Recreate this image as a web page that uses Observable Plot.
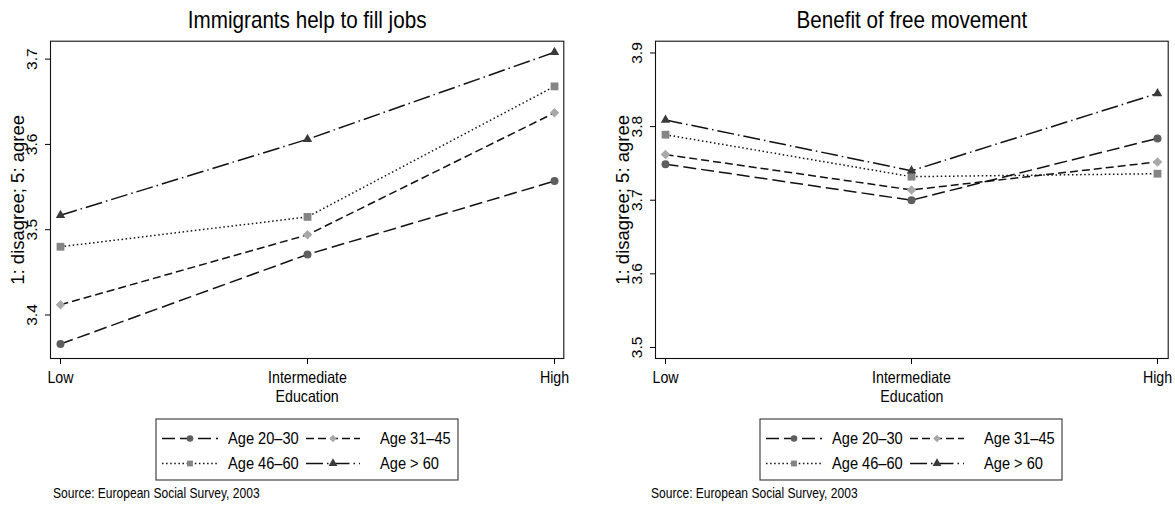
<!DOCTYPE html>
<html><head><meta charset="utf-8">
<script src="https://cdn.jsdelivr.net/npm/d3@7"></script>
<script src="https://cdn.jsdelivr.net/npm/@observablehq/plot@0.6"></script>
<style>
body{margin:0;background:#fff;}
#wrap{position:relative;width:1175px;height:507px;overflow:hidden;background:#fff;}
.panel{position:absolute;top:0;}
.legend{position:absolute;overflow:visible;}
.src{position:absolute;font-family:'Liberation Sans',Arial,sans-serif;font-size:14px;color:#000;white-space:nowrap;line-height:16px;transform:scaleX(0.86);transform-origin:0 50%;}
</style></head><body><div id="wrap"></div>
<script>
const education = ["Low", "Intermediate", "High"];
const ageGroups = ["Age 20\u201330", "Age 31\u201345", "Age 46\u201360", "Age > 60"];
const jobsAge20_30 = [3.366, 3.471, 3.557];
const jobsAge31_45 = [3.412, 3.494, 3.637];
const jobsAge46_60 = [3.480, 3.515, 3.668];
const jobsAge60plus = [3.517, 3.606, 3.708];
const moveAge20_30 = [3.749, 3.700, 3.784];
const moveAge31_45 = [3.762, 3.714, 3.752];
const moveAge46_60 = [3.789, 3.732, 3.736];
const moveAge60plus = [3.809, 3.740, 3.845];
const jobsTicks = [3.4, 3.5, 3.6, 3.7];
const moveTicks = [3.5, 3.6, 3.7, 3.8, 3.9];
const titles = ["Immigrants help to fill jobs", "Benefit of free movement"];
const yLabel = "1: disagree; 5: agree";
const xLabel = "Education";
const sourceText = "Source: European Social Survey, 2003";

const NARROW = "'Liberation Sans Narrow','Liberation Sans',Arial,sans-serif";
const REG = "'Liberation Sans',Arial,Helvetica,sans-serif";
const NARROW_K = 0.86;

const seriesStyles = [
  {dash: "13,5", symbol: "circle", fill: "#5e5e5e", r: 4},
  {dash: "8,4", symbol: "diamond2", fill: "#a8a8a8", r: 4.3},
  {dash: "1.5,2.6", symbol: "square", fill: "#858585", r: 4.4},
  {dash: "17,4,1.5,4", symbol: "triangle", fill: "#3a3a3a", r: 3.5}
];

function narrowTexts(root) {
  root.querySelectorAll('[font-family*="Narrow"] text, text[font-family*="Narrow"]').forEach(t => {
    const L = t.getComputedTextLength();
    if (L > 0) {
      t.setAttribute("textLength", (L * NARROW_K).toFixed(2));
      t.setAttribute("lengthAdjust", "spacingAndGlyphs");
    }
  });
}

function makePanel(cfg) {
  const marks = [
    Plot.frame({stroke: "#111", strokeWidth: 1.1}),
    Plot.axisX({tickSize: 6, tickPadding: 7, fontFamily: NARROW, fontSize: 16.5, label: null}),
    Plot.axisY({ticks: cfg.ticks, tickSize: 5, tickFormat: () => "", label: null}),
    Plot.text(cfg.ticks, {y: d => d, text: d => d.toFixed(1), frameAnchor: "left", rotate: -90, dx: -18, textAnchor: "middle", lineAnchor: "middle", fontSize: 15.5, fontFamily: REG}),
    Plot.text([yLabel], {frameAnchor: "left", rotate: -90, dx: -32, textAnchor: "middle", lineAnchor: "middle", fontSize: 18.5, fontFamily: REG}),
    Plot.text([cfg.title], {frameAnchor: "top", dy: -20.5, lineAnchor: "middle", fontSize: 24, fontFamily: NARROW}),
    Plot.text([xLabel], {frameAnchor: "bottom", dy: 38.5, lineAnchor: "middle", fontSize: 16.5, fontFamily: NARROW})
  ];
  cfg.values.forEach((vals, i) => {
    const st = seriesStyles[i];
    const data = education.map((e, j) => ({edu: e, value: vals[j], group: ageGroups[i]}));
    marks.push(Plot.line(data, {x: "edu", y: "value", stroke: "#111", strokeWidth: 1.5, strokeDasharray: st.dash, strokeLinecap: "butt"}));
  });
  cfg.values.forEach((vals, i) => {
    const st = seriesStyles[i];
    const data = education.map((e, j) => ({edu: e, value: vals[j], group: ageGroups[i]}));
    marks.push(Plot.dot(data, {x: "edu", y: "value", symbol: st.symbol, fill: st.fill, r: st.r, stroke: "none"}));
  });
  const svg = Plot.plot({
    width: cfg.width, height: 410,
    marginLeft: cfg.marginLeft, marginRight: cfg.marginRight, marginTop: 40.7, marginBottom: 52,
    x: {type: "point", domain: education, padding: 0, insetLeft: cfg.insetL, insetRight: cfg.insetR},
    y: {domain: cfg.yDomain},
    style: {fontFamily: REG, fontSize: "15px", color: "#000", background: "transparent", overflow: "visible"},
    marks
  });
  const div = document.createElement("div");
  div.className = "panel";
  div.style.left = cfg.left + "px";
  div.appendChild(svg);
  document.getElementById("wrap").appendChild(div);
  narrowTexts(svg);

  // legend
  const frameCenter = cfg.left + cfg.marginLeft + (cfg.width - cfg.marginLeft - cfg.marginRight) / 2;
  const lw = 302, lh = 61;
  const lg = d3.select("#wrap").append("svg").attr("class", "legend")
    .attr("width", lw + 30).attr("height", lh + 2)
    .style("left", (frameCenter - lw / 2 - 1) + "px").style("top", "417.5px");
  lg.append("rect").attr("x", 1).attr("y", 1).attr("width", lw).attr("height", lh)
    .attr("fill", "#fff").attr("stroke", "#333").attr("stroke-width", 1.1);
  const cols = [{x0: 7, x1: 63, tx: 73}, {x0: 151, x1: 205, tx: 225}];
  const rows = [19.5, 44.5];
  ageGroups.forEach((g, i) => {
    const st = seriesStyles[i];
    const c = cols[i % 2], ry = rows[Math.floor(i / 2)] + 1;
    lg.append("line").attr("x1", c.x0).attr("x2", c.x1).attr("y1", ry).attr("y2", ry)
      .attr("stroke", "#111").attr("stroke-width", 1.5).attr("stroke-dasharray", st.dash);
    const sym = {circle: d3.symbolCircle, diamond2: d3.symbolDiamond2, square: d3.symbolSquare, triangle: d3.symbolTriangle}[st.symbol];
    lg.append("path").attr("d", d3.symbol(sym, Math.PI * 3.3 * 3.3)())
      .attr("transform", `translate(${(c.x0 + c.x1) / 2},${ry})`).attr("fill", st.fill);
    lg.append("text").attr("x", c.tx).attr("y", ry).attr("dy", "0.35em")
      .attr("font-family", NARROW).attr("font-size", 17).text(g);
  });
  narrowTexts(lg.node());

  const s = document.createElement("div");
  s.className = "src";
  s.style.left = cfg.srcLeft + "px";
  s.style.top = "485px";
  s.textContent = sourceText;
  document.getElementById("wrap").appendChild(s);
}

makePanel({left: 0, width: 587, marginLeft: 50, marginRight: 23.7, insetL: 9, insetR: 9.3,
  yDomain: [3.349, 3.721], ticks: jobsTicks, title: titles[0],
  values: [jobsAge20_30, jobsAge31_45, jobsAge46_60, jobsAge60plus], srcLeft: 53});
makePanel({left: 587, width: 588, marginLeft: 68, marginRight: 7.3, insetL: 9, insetR: 10,
  yDomain: [3.485, 3.916], ticks: moveTicks, title: titles[1],
  values: [moveAge20_30, moveAge31_45, moveAge46_60, moveAge60plus], srcLeft: 651});
</script></body></html>
